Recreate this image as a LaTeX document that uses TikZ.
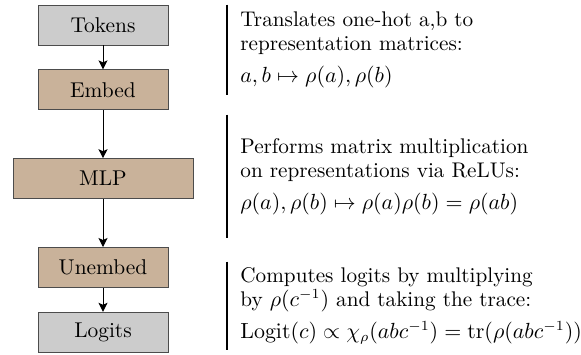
\documentclass[tikz,border=0pt]{standalone}
\usepackage{amsmath, amssymb}
\usetikzlibrary{positioning, arrows.meta}
\definecolor{tokgray}{RGB}{204,204,204}
\definecolor{layertan}{RGB}{201,178,154}

\begin{document}
\begin{tikzpicture}[node distance=12pt,
  box/.style={
    rectangle, draw=black!70, line width=0.4pt, align=center,
    minimum width=65pt, minimum height=20pt, font=\fontsize{10.7}{12}\selectfont
  },
  tokbox/.style={box, fill=tokgray},
  layerbox/.style={box, fill=layertan},
  note/.style={align=left, anchor=west, inner xsep=6.5pt, inner ysep=0pt,
    font=\fontsize{10.6}{12}\selectfont},
  flow/.style={-{Stealth[length=4.5pt, width=4.5pt, inset=1pt]}, line width=0.5pt}]
\useasboundingbox (0,0) rectangle (290.5pt,-177pt);
\node[tokbox] (tokens) at (51.5pt,-12.5pt) {Tokens};
\node[layerbox, below=of tokens] (embed) {Embed};
\node[layerbox, below=24pt of embed, minimum width=90pt] (mlp) {MLP};
\node[layerbox, below=24pt of mlp] (unembed) {Unembed};
\node[tokbox, below=of unembed] (logits) {Logits};
\draw[flow] (tokens) -- (embed);
\draw[flow] (embed) -- (mlp);
\draw[flow] (mlp) -- (unembed);
\draw[flow] (unembed) -- (logits);
% notes beside the layers
\node[note, minimum height=45pt] (embednote) at (113.5pt,-25pt)
  {Translates one-hot a,b to\\representation matrices:\\[4pt]
   $a,b\mapsto\rho(a),\rho(b)$};
\node[note, minimum height=61.5pt] (mlpnote) at (113.5pt,-88.25pt)
  {Performs matrix multiplication\\on representations via ReLUs:\\[4pt]
   $\rho(a),\rho(b)\mapsto\rho(a)\rho(b)=\rho(ab)$};
\node[note, minimum height=44pt] (unembednote) at (113.5pt,-153pt)
  {Computes logits by multiplying\\by $\rho(c^{-1})$ and taking the trace:\\[4pt]
   $\mathrm{Logit}(c)\propto\chi_\rho(abc^{-1})=\mathrm{tr}(\rho(abc^{-1}))$};
\draw[line width=0.6pt] (embednote.north west) -- (embednote.south west);
\draw[line width=0.6pt] (mlpnote.north west) -- (mlpnote.south west);
\draw[line width=0.6pt] (unembednote.north west) -- (unembednote.south west);
\end{tikzpicture}
\end{document}
